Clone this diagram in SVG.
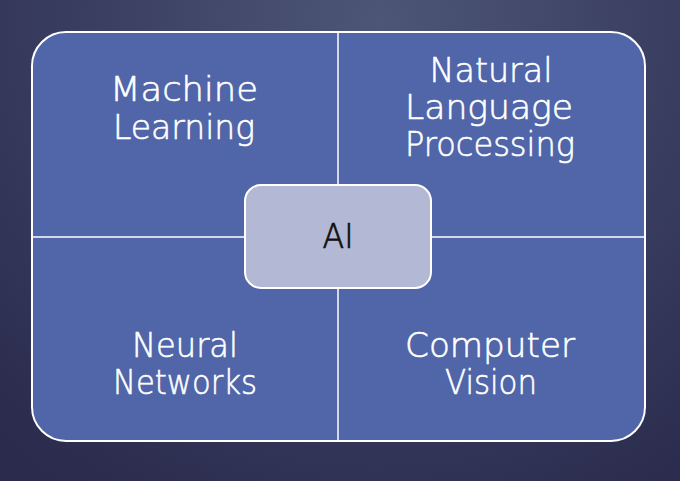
<svg xmlns="http://www.w3.org/2000/svg" width="680" height="481" viewBox="0 0 680 481">
  <defs>
    <radialGradient id="bg" cx="380" cy="20" r="560" gradientUnits="userSpaceOnUse">
      <stop offset="0" stop-color="#4d5676"/>
      <stop offset="0.6" stop-color="#373b5d"/>
      <stop offset="1" stop-color="#2a2b4d"/>
    </radialGradient>
    <style>
      .quad { fill: #5066a8; stroke: #ffffff; stroke-width: 2; }
      .div { stroke: #ffffff; stroke-width: 1.5; fill: none; }
      .lbl { font-family: "DejaVu Sans", "Liberation Sans", sans-serif; font-size: 34px; fill: #ffffff; stroke: #ffffff; stroke-width: 0.6; text-anchor: middle; font-weight: 300; }
      .center { fill: #b3b9d4; stroke: #ffffff; stroke-width: 2; }
      .clbl { font-family: "DejaVu Sans", "Liberation Sans", sans-serif; font-size: 34px; fill: #111111; stroke: #111111; stroke-width: 0.7; text-anchor: middle; font-weight: 300; }
    </style>
  </defs>
  <rect width="680" height="481" fill="url(#bg)"/>
  <g id="frame">
    <rect class="quad" x="32" y="32" width="613" height="409" rx="34" ry="34"/>
  </g>
  <g id="connectors">
    <line class="div" x1="338" y1="32" x2="338" y2="441"/>
    <line class="div" x1="32" y1="237" x2="645" y2="237"/>
  </g>
  <g id="machine-learning">
    <text class="lbl" x="184" y="101" textLength="148" lengthAdjust="spacingAndGlyphs">Machine</text>
    <text class="lbl" x="184" y="139" textLength="142" lengthAdjust="spacingAndGlyphs">Learning</text>
  </g>
  <g id="nlp">
    <text class="lbl" x="491" y="82" textLength="123" lengthAdjust="spacingAndGlyphs">Natural</text>
    <text class="lbl" x="489" y="119" textLength="168" lengthAdjust="spacingAndGlyphs">Language</text>
    <text class="lbl" x="490" y="156" textLength="170" lengthAdjust="spacingAndGlyphs">Processing</text>
  </g>
  <g id="neural-networks">
    <text class="lbl" x="185" y="357" textLength="106" lengthAdjust="spacingAndGlyphs">Neural</text>
    <text class="lbl" x="185" y="394" textLength="144" lengthAdjust="spacingAndGlyphs">Networks</text>
  </g>
  <g id="computer-vision">
    <text class="lbl" x="490" y="357" textLength="170" lengthAdjust="spacingAndGlyphs">Computer</text>
    <text class="lbl" x="491" y="394" textLength="92" lengthAdjust="spacingAndGlyphs">Vision</text>
  </g>
  <g id="ai">
    <rect class="center" x="245" y="185" width="186" height="103" rx="16" ry="16"/>
    <text class="clbl" x="338" y="248" textLength="31" lengthAdjust="spacingAndGlyphs">AI</text>
  </g>
</svg>
